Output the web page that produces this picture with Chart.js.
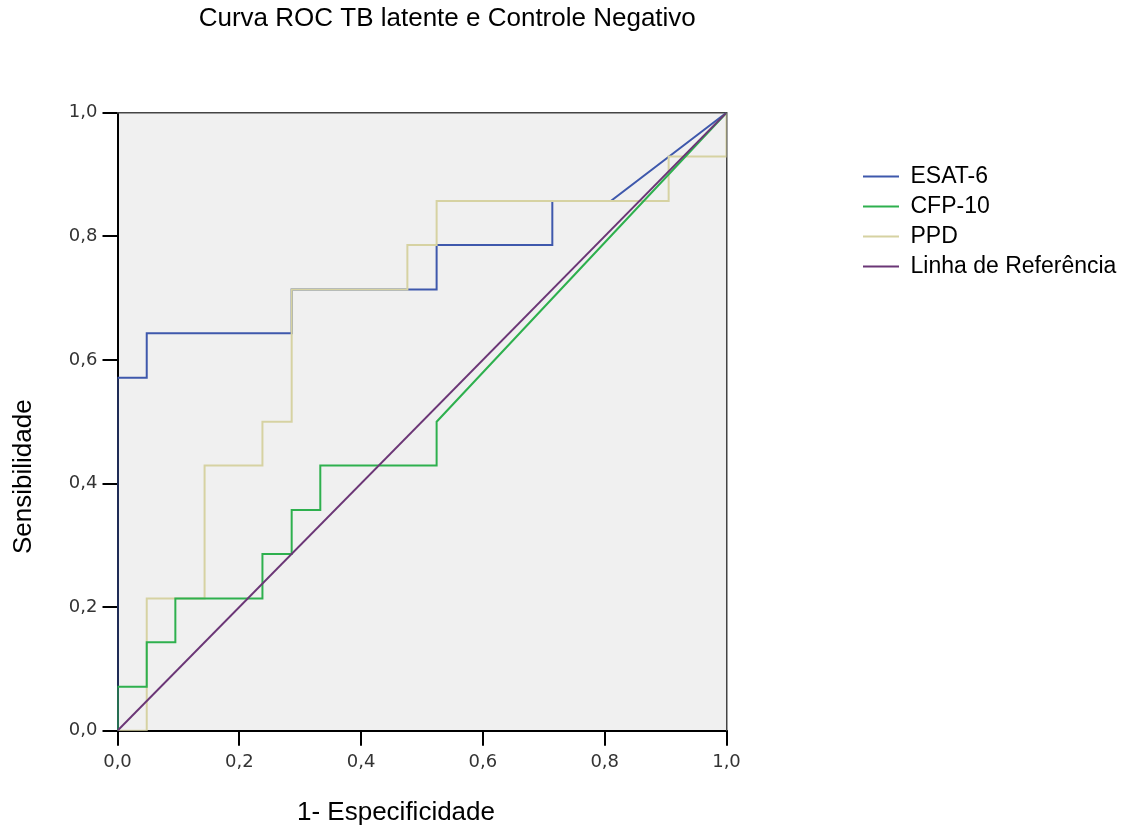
<!DOCTYPE html>
<html>
<head>
<meta charset="utf-8">
<title>Curva ROC TB latente e Controle Negativo</title>
<script src="https://cdn.jsdelivr.net/npm/chart.js"></script>
<style>
  html, body { margin: 0; padding: 0; background: #ffffff; }
  #roc { display: block; }
</style>
</head>
<body>
<canvas id="roc" width="1128" height="828"></canvas>
<script>
// --- DATA ---
const chartTitle = 'Curva ROC TB latente e Controle Negativo';
const xTitle = '1- Especificidade';
const yTitle = 'Sensibilidade';
const seriesNames = ['ESAT-6', 'CFP-10', 'PPD', 'Linha de Referência'];
const seriesColors = ['#3e58ac', '#2eb04e', '#d6d2a2', '#6b3676'];
const tickValues = [0, 0.2, 0.4, 0.6, 0.8, 1.0];

// corners of each curve: 1 - specificity (x) and sensitivity (y)
const esatX = [0, 0, 0.048, 0.048, 0.286, 0.286, 0.524, 0.524, 0.714, 0.714, 0.810, 1];
const esatY = [0, 0.571, 0.571, 0.643, 0.643, 0.714, 0.714, 0.786, 0.786, 0.857, 0.857, 1];

const cfpX = [0, 0, 0.048, 0.048, 0.095, 0.095, 0.238, 0.238, 0.286, 0.286, 0.333, 0.333, 0.524, 0.524, 1];
const cfpY = [0, 0.071, 0.071, 0.143, 0.143, 0.214, 0.214, 0.286, 0.286, 0.357, 0.357, 0.429, 0.429, 0.500, 1];

const ppdX = [0, 0.048, 0.048, 0.143, 0.143, 0.238, 0.238, 0.286, 0.286, 0.476, 0.476, 0.524, 0.524, 0.905, 0.905, 1, 1];
const ppdY = [0, 0, 0.214, 0.214, 0.429, 0.429, 0.500, 0.500, 0.714, 0.714, 0.786, 0.786, 0.857, 0.857, 0.929, 0.929, 1];

const refX = [0, 1];
const refY = [0, 1];

// --- HELPERS ---
const toPoints = (xs, ys) => xs.map((x, i) => ({ x: x, y: ys[i] }));
const formatTick = (v) => v.toFixed(1).replace('.', ',');

const FONT = '"Liberation Sans", Arial, sans-serif';

// plot frame: grey fill behind the curves
const plotBackground = {
    id: 'plotBackground',
    beforeDraw(chart) {
        const { ctx, chartArea: a } = chart;
        ctx.save();
        ctx.fillStyle = '#f0f0f0';
        ctx.fillRect(a.left, a.top, a.right - a.left, a.bottom - a.top);
        ctx.restore();
    }
};

// move an axis title off its default centre (the reference is not centred)
const shiftAxisTitle = (scale, dx, dy) => {
    if (!scale || scale._titleShifted) return;
    const draw = scale.drawTitle;
    scale.drawTitle = function () {
        this.left += dx; this.right += dx; this.top += dy; this.bottom += dy;
        draw.call(this);
        this.left -= dx; this.right -= dx; this.top -= dy; this.bottom -= dy;
    };
    scale._titleShifted = true;
};

// pin the legend and the titles where the reference has them
const layoutTweaks = {
    id: 'layoutTweaks',
    beforeLayout(chart) {
        const lg = chart.legend;
        if (lg && !lg._fixedFit) {
            const fit = lg.fit;
            lg.fit = function () { fit.call(this); this.width = 60; };
            lg._fixedFit = true;
        }
    },
    afterLayout(chart) {
        const lg = chart.legend;
        if (lg) {
            lg.left = 856;
            lg.right = 1126;
            lg.top = 158;
            lg.bottom = 460;
        }
        const t = chart.titleBlock;
        if (t) {
            t.left += 54;
            t.right += 54;
        }
        shiftAxisTitle(chart.scales.x, -26, 0);
        shiftAxisTitle(chart.scales.y, 0, 55);
    }
};

const datasets = [
    { label: seriesNames[0], data: toPoints(esatX, esatY), borderColor: seriesColors[0], order: 4 },
    { label: seriesNames[1], data: toPoints(cfpX, cfpY), borderColor: seriesColors[1], order: 2 },
    { label: seriesNames[2], data: toPoints(ppdX, ppdY), borderColor: seriesColors[2], order: 3 },
    { label: seriesNames[3], data: toPoints(refX, refY), borderColor: seriesColors[3], order: 1 }
].map(ds => ({
    ...ds,
    backgroundColor: ds.borderColor,
    borderWidth: 2,
    pointRadius: 0,
    pointHoverRadius: 0,
    tension: 0,
    fill: false,
    xAxisID: 'x',
    yAxisID: 'y'
}));

const mainAxis = (titleText, titlePadding, labelPadding, fixSize) => ({
    type: 'linear',
    min: 0,
    max: 1,
    afterBuildTicks: (scale) => { scale.ticks = tickValues.map(v => ({ value: v })); },
    ticks: {
        callback: (v) => formatTick(v),
        color: '#333333',
        padding: labelPadding,
        font: { family: '"DejaVu Sans", sans-serif', size: 18 }
    },
    grid: { display: true, drawOnChartArea: false, drawTicks: true, tickLength: 15, color: '#000000', lineWidth: 2 },
    border: { display: true, color: '#000000', width: 2 },
    title: {
        display: true,
        text: titleText,
        color: '#000000',
        padding: titlePadding,
        font: { family: FONT, size: 26 }
    },
    afterFit: fixSize
});

const frameAxis = (position, fixSize) => ({
    type: 'linear',
    position: position,
    min: 0,
    max: 1,
    ticks: { display: false },
    grid: { display: false, drawTicks: false },
    border: { display: true, color: '#444444', width: 1.5 },
    afterFit: fixSize
});

new Chart(document.getElementById('roc'), {
    type: 'line',
    data: { datasets: datasets },
    options: {
        responsive: false,
        animation: false,
        layout: { padding: { left: 0, top: 0, right: 341.5, bottom: 0 } },
        scales: {
            x: { ...mainAxis(xTitle, { top: 0, bottom: 0 }, 6, (s) => { s.height = 97.3; }), position: 'bottom' },
            y: { ...mainAxis(yTitle, { top: 8.4, bottom: 0 }, 5, (s) => { s.width = 117.5; }), position: 'left' },
            x2: frameAxis('top', (s) => { s.height = 0; }),
            y2: frameAxis('right', (s) => { s.width = 0; })
        },
        plugins: {
            title: {
                display: true,
                text: chartTitle,
                color: '#000000',
                font: { family: FONT, size: 26, weight: 'normal' },
                padding: { top: 3.4, bottom: 78.1 }
            },
            legend: {
                display: true,
                position: 'right',
                align: 'start',
                labels: {
                    usePointStyle: true,
                    pointStyle: 'line',
                    pointStyleWidth: 36,
                    padding: 7,
                    color: '#000000',
                    font: { family: FONT, size: 23 },
                    sort: (a, b) => a.datasetIndex - b.datasetIndex
                }
            },
            tooltip: { enabled: false }
        }
    },
    plugins: [plotBackground, layoutTweaks]
});
</script>
</body>
</html>
